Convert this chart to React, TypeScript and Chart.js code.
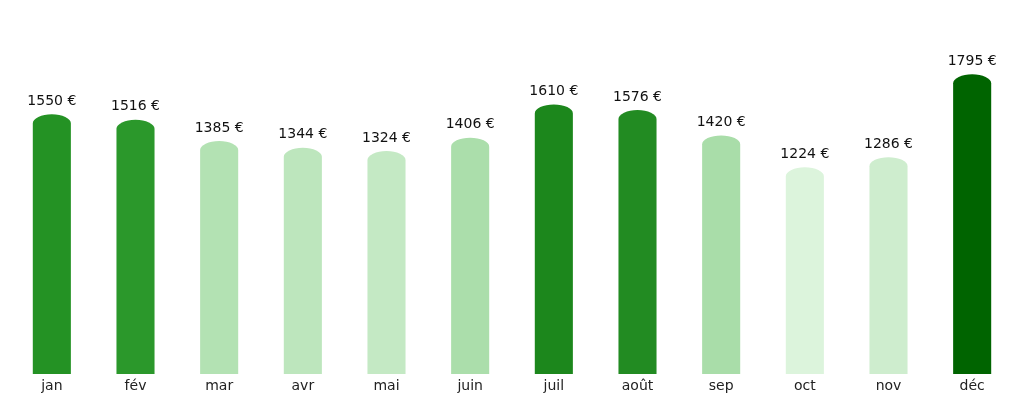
import { useEffect, useRef } from "react";
import Chart, { ChartConfiguration, Plugin } from "chart.js/auto";

const months = ["jan", "fév", "mar", "avr", "mai", "juin", "juil", "août", "sep", "oct", "nov", "déc"];
const totals = [1550, 1516, 1385, 1344, 1324, 1406, 1610, 1576, 1420, 1224, 1286, 1795];
const barColors = [
  "#249224", "#2b982b", "#b3e2b3", "#bde6bd", "#c4e9c4", "#abdeab",
  "#1c871c", "#228b22", "#a9dda9", "#dcf4dc", "#ceedce", "#006400",
];

const FONT = "'DejaVu Sans', sans-serif";
const CAP = 9; // hauteur du sommet arrondi

// Dessine les barres avec un sommet elliptique et les étiquettes de valeur
const capBars: Plugin<"bar"> = {
  id: "capBars",
  beforeDatasetDraw(chart, args) {
    const ctx = chart.ctx;
    const bottom = chart.chartArea.bottom;
    args.meta.data.forEach((bar: any) => {
      const { x, y, width } = bar.getProps(["x", "y", "width"], true);
      const half = width / 2;
      ctx.save();
      ctx.fillStyle = bar.options.backgroundColor;
      ctx.beginPath();
      ctx.moveTo(x - half, bottom);
      ctx.lineTo(x - half, y + CAP);
      ctx.ellipse(x, y + CAP, half, CAP, 0, Math.PI, 0);
      ctx.lineTo(x + half, bottom);
      ctx.closePath();
      ctx.fill();
      ctx.restore();
    });
    return false;
  },
  afterDatasetsDraw(chart) {
    const ctx = chart.ctx;
    const meta = chart.getDatasetMeta(0);
    ctx.save();
    ctx.fillStyle = "#111111";
    ctx.font = `14px ${FONT}`;
    ctx.textAlign = "center";
    ctx.textBaseline = "bottom";
    meta.data.forEach((bar: any, i) => {
      const { x, y } = bar.getProps(["x", "y"], true);
      ctx.fillText(`${totals[i]} €`, x, y - 6);
    });
    ctx.restore();
  },
};

const App = () => {
  const chartRef = useRef<HTMLCanvasElement | null>(null);
  const chartInstance = useRef<Chart | null>(null);

  useEffect(() => {
    if (!chartRef.current) return;
    if (chartInstance.current) chartInstance.current.destroy();

    const ctx = chartRef.current.getContext("2d");
    if (!ctx) return;

    const config: ChartConfiguration<"bar"> = {
      type: "bar",
      data: {
        labels: months,
        datasets: [
          {
            data: totals,
            backgroundColor: barColors,
            barPercentage: 0.455,
            categoryPercentage: 1,
          },
        ],
      },
      options: {
        animation: false,
        responsive: true,
        maintainAspectRatio: false,
        layout: { padding: { top: 41, left: 10, right: 10, bottom: 0 } },
        plugins: {
          legend: { display: false },
          tooltip: { enabled: false },
        },
        scales: {
          x: {
            border: { display: false },
            grid: { display: false, drawTicks: false },
            ticks: { color: "#222222", font: { family: FONT, size: 14 }, padding: 4 },
            afterFit: (scale) => {
              scale.height = 30;
            },
          },
          y: {
            display: false,
            min: -46,
            max: 2000,
          },
        },
      },
      plugins: [capBars],
    };

    chartInstance.current = new Chart(ctx, config);
    return () => {
      chartInstance.current?.destroy();
    };
  }, []);

  return (
    <div style={{ position: "fixed", left: 0, top: 0, width: 1024, height: 404, background: "#fff" }}>
      <canvas ref={chartRef} />
    </div>
  );
};

export default App;
